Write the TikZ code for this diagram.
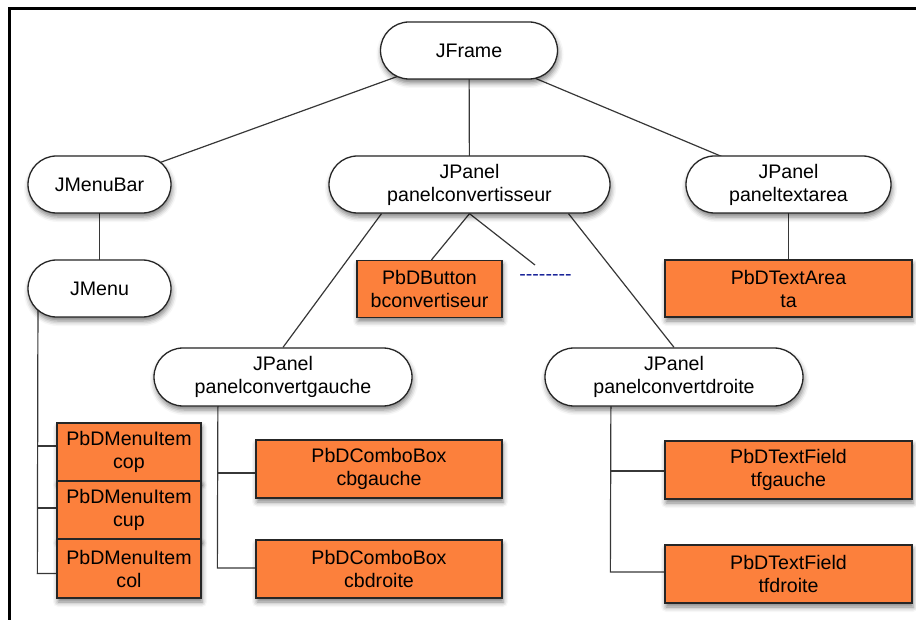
\documentclass[tikz,border=0pt]{standalone}
\usepackage{fontspec}
\setmainfont{Liberation Sans}
\usetikzlibrary{shapes.misc,shadows.blur,backgrounds}
\definecolor{boxorange}{RGB}{252,128,60}
\definecolor{linegray}{RGB}{55,55,55}
\definecolor{dashblue}{RGB}{20,30,150}
\tikzset{
  base/.style={draw=black!85, line width=1.3pt, align=center, inner sep=0pt,
    font=\fontsize{19.6}{23}\selectfont,
    blur shadow={shadow xshift=1pt, shadow yshift=-4pt, shadow blur radius=5pt, shadow opacity=50}},
  pill/.style={base, rounded rectangle, rounded rectangle arc length=180, fill=white},
  obox/.style={base, rectangle, fill=boxorange},
  conn/.style={draw=linegray, line width=1.2pt}
}
\begin{document}
\begin{tikzpicture}[x=1pt,y=-1pt]
\useasboundingbox (0,0) rectangle (916,620);
\draw[line width=2.7pt] (9.7,620) -- (9.7,8.7) -- (916,8.7);

% nodes
\node[pill, minimum width=177pt, minimum height=57pt] (jframe) at (469,50.5) {JFrame};
\node[pill, minimum width=143pt, minimum height=57pt] (menubar) at (99.5,184.5) {JMenuBar};
\node[pill, minimum width=143pt, minimum height=57pt] (menu) at (99.5,288.5) {JMenu};
\node[pill, minimum width=281pt, minimum height=57pt] (pcs) at (469.5,184.5) {JPanel\\panelconvertisseur};
\node[pill, minimum width=205pt, minimum height=57pt] (pta) at (788.5,184.5) {JPanel\\paneltextarea};
\node[obox, minimum width=145pt, minimum height=57pt] (btn) at (429.5,289) {PbDButton\\bconvertiseur};
\node[obox, minimum width=247pt, minimum height=57pt] (ta) at (788.5,288.5) {PbDTextArea\\ta};
\node[pill, minimum width=258pt, minimum height=58pt] (pcg) at (283,377) {JPanel\\panelconvertgauche};
\node[pill, minimum width=258pt, minimum height=58pt] (pcd) at (674,377) {JPanel\\panelconvertdroite};
\node[obox, minimum width=144pt, minimum height=58pt] (cop) at (129,452) {PbDMenuItem\\cop};
\node[obox, minimum width=144pt, minimum height=58pt] (cup) at (129,510) {PbDMenuItem\\cup};
\node[obox, minimum width=144pt, minimum height=59pt] (col) at (129,568.5) {PbDMenuItem\\col};
\node[obox, minimum width=246pt, minimum height=58pt] (cbg) at (379,469) {PbDComboBox\\cbgauche};
\node[obox, minimum width=246pt, minimum height=58pt] (cbd) at (379,569) {PbDComboBox\\cbdroite};
\node[obox, minimum width=247pt, minimum height=58pt] (tfg) at (788.5,470) {PbDTextField\\tfgauche};
\node[obox, minimum width=247pt, minimum height=58pt] (tfd) at (788.5,574) {PbDTextField\\tfdroite};
\node[text=dashblue, font=\fontsize{19.6}{23}\selectfont, inner sep=0pt, anchor=base] (dots) at (545.5,280.5) {{-}{-}{-}{-}{-}{-}{-}{-}};
\coordinate (dashend) at (535,265);

\begin{pgfonlayer}{background}
\draw[conn] (jframe.center) -- (menubar.center);
\draw[conn] (jframe.center) -- (pcs.center);
\draw[conn] (jframe.center) -- (pta.center);
\draw[conn] (menubar.center) -- (menu.center);
\draw[conn] (pta.center) -- (ta.center);
\draw[conn] ([xshift=-88pt]pcs.south) -- (pcg.north);
\draw[conn] (pcs.south) -- ([xshift=2pt]btn.north);
\draw[conn] (pcs.south) -- (dashend);
\draw[conn] ([xshift=99pt]pcs.south) -- (pcd.north);
% menu items
\draw[conn] ([xshift=-61.5pt]menu.center) -- ([xshift=-19pt,yshift=-5pt]col.west) -- ([yshift=-5pt]col.west);
\draw[conn] ([yshift=6pt]cop.west) -- ++(-19,0);
\draw[conn] ([yshift=2pt]cup.west) -- ++(-19,0);
% combo boxes
\draw[conn] ([xshift=-65pt]pcg.center) -- ([xshift=-38pt,yshift=1pt]cbd.west) -- ([yshift=1pt]cbd.west);
\draw[conn] ([yshift=-4pt]cbg.west) -- ++(-38,0);
% text fields
\draw[conn] ([xshift=-63pt]pcd.center) -- ([xshift=-54pt,yshift=2pt]tfd.west) -- ([yshift=2pt]tfd.west);
\draw[conn] ([yshift=-1pt]tfg.west) -- ++(-54,0);
\end{pgfonlayer}
\end{tikzpicture}
\end{document}
